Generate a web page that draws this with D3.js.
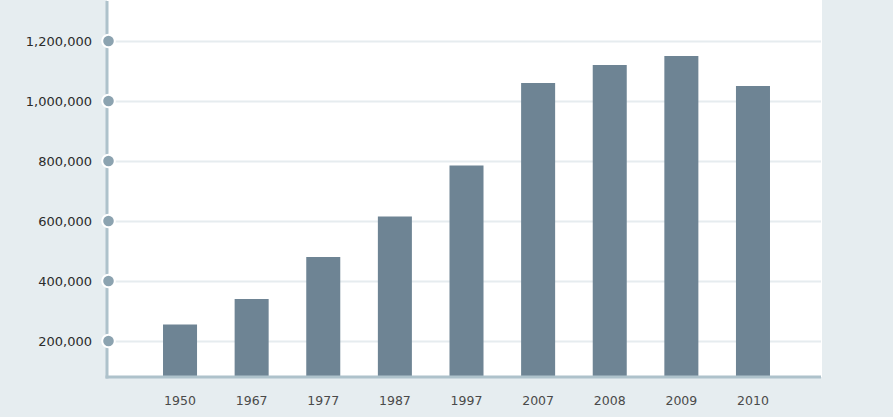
<!DOCTYPE html>
<html>
<head>
<meta charset="utf-8">
<script src="https://cdn.jsdelivr.net/npm/d3@7"></script>
<style>
  html, body { margin: 0; padding: 0; background: #e6edf0; }
  svg { display: block; font-family: "DejaVu Sans", Verdana, sans-serif; }
</style>
</head>
<body>
<div id="chart"></div>
<script>
// data
var years = ['1950', '1967', '1977', '1987', '1997', '2007', '2008', '2009', '2010'];
var values = [255000, 340000, 480000, 615000, 785000, 1060000, 1120000, 1150000, 1050000];
var yTicks = [200000, 400000, 600000, 800000, 1000000, 1200000];

var width = 893;
var height = 417;

// plot area
var plot = { left: 107, right: 822, top: 0, bottom: 377 };

var svg = d3.select('#chart').append('svg')
    .attr('width', width)
    .attr('height', height);

svg.append('rect')
    .attr('width', width)
    .attr('height', height)
    .attr('fill', '#e6edf0');

svg.append('rect')
    .attr('x', plot.left)
    .attr('y', plot.top)
    .attr('width', plot.right - plot.left)
    .attr('height', plot.bottom - plot.top)
    .attr('fill', '#fff');

// scales
var x = d3.scaleBand()
    .domain(years)
    .range([109.3, 823.7])
    .paddingInner(0.525)
    .paddingOuter(0.75);

var y = d3.scaleLinear()
    .domain([80000, 1200000])
    .range([plot.bottom, 41]);

// gridlines + y labels
var yAxis = svg.append('g')
    .attr('transform', 'translate(' + plot.left + ',0)')
    .call(d3.axisLeft(y)
        .tickValues(yTicks)
        .tickFormat(d3.format(','))
        .tickSize(-(plot.right - plot.left - 1))
        .tickPadding(15));

yAxis.select('.domain').remove();
yAxis.selectAll('.tick line')
    .attr('stroke', '#e6ecef')
    .attr('stroke-width', 2);
yAxis.selectAll('.tick text')
    .attr('fill', '#2b2b2b')
    .attr('font-size', 13)
    .attr('font-family', '"DejaVu Sans", Verdana, sans-serif');

// bars
svg.append('g').selectAll('rect')
    .data(values)
    .join('rect')
    .attr('x', function (d, i) { return x(years[i]); })
    .attr('y', function (d) { return y(d); })
    .attr('width', x.bandwidth())
    .attr('height', function (d) { return plot.bottom - y(d); })
    .attr('fill', '#6e8494');

// axis lines
svg.append('line')
    .attr('x1', plot.left).attr('x2', plot.left)
    .attr('y1', 1).attr('y2', plot.bottom + 1.5)
    .attr('stroke', '#aec2cb')
    .attr('stroke-width', 3);

svg.append('line')
    .attr('x1', plot.left - 1.5).attr('x2', plot.right - 1)
    .attr('y1', plot.bottom).attr('y2', plot.bottom)
    .attr('stroke', '#aec2cb')
    .attr('stroke-width', 3);

// dots on the y axis
svg.append('g').selectAll('circle')
    .data(yTicks)
    .join('circle')
    .attr('cx', plot.left + 1.5)
    .attr('cy', function (d) { return y(d); })
    .attr('r', 6.3)
    .attr('fill', '#8ca3b0')
    .attr('stroke', '#fff')
    .attr('stroke-width', 2);

// x labels
var xAxis = svg.append('g')
    .attr('transform', 'translate(0,' + plot.bottom + ')')
    .call(d3.axisBottom(x).tickSize(0).tickPadding(19.5));

xAxis.select('.domain').remove();
xAxis.selectAll('.tick text')
    .attr('fill', '#4a4a4a')
    .attr('font-size', 12.5)
    .attr('font-family', '"DejaVu Sans", Verdana, sans-serif');
</script>
</body>
</html>
